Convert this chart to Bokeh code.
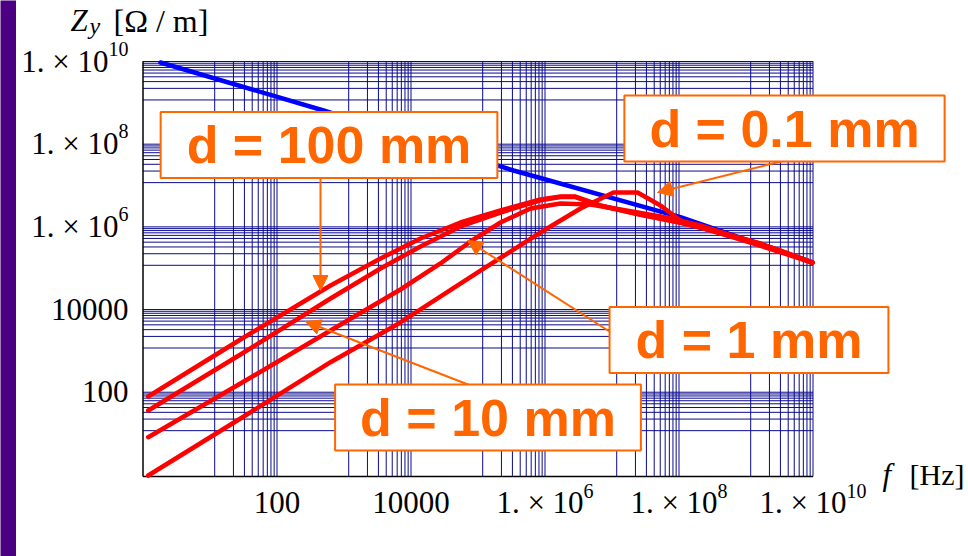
import numpy as np
from bokeh.plotting import figure
from bokeh.models import Label, Arrow, NormalHead, Range1d
from bokeh.core.properties import value
from bokeh.embed import file_html
from bokeh.resources import INLINE

# ---- data (log10 values) ----
blue_logf = [0.261, 2.694, 5.530, 8.022, 9.993]
blue_logz = [9.976, 8.815, 7.363, 6.234, 5.138]

d100_logf = [0.078, 1.455, 2.799, 3.545, 4.142, 4.739, 5.336, 5.933, 6.231, 6.455, 6.828, 7.425, 8.022, 8.619, 9.216, 9.993]
d100_logz = [1.896, 3.275, 4.582, 5.235, 5.718, 6.105, 6.396, 6.662, 6.734, 6.734, 6.517, 6.299, 6.105, 5.864, 5.598, 5.138]

d10_logf = [0.078, 1.455, 2.799, 3.545, 4.142, 4.739, 5.336, 5.933, 6.231, 6.455, 6.828, 7.425, 8.022, 8.619, 9.216, 9.993]
d10_logz = [1.558, 2.912, 4.267, 4.993, 5.525, 6.009, 6.347, 6.640, 6.720, 6.720, 6.510, 6.290, 6.100, 5.860, 5.590, 5.130]

d1_logf = [0.078, 1.455, 2.799, 3.843, 4.440, 4.888, 5.336, 5.784, 6.231, 6.679, 7.127, 7.724, 8.321, 8.918, 9.515, 9.993]
d1_logz = [0.912, 2.211, 3.493, 4.485, 5.114, 5.646, 6.105, 6.444, 6.565, 6.541, 6.420, 6.251, 6.033, 5.718, 5.428, 5.138]

d01_logf = [0.078, 1.455, 2.799, 3.843, 5.037, 5.933, 6.530, 7.022, 7.381, 7.724, 8.022, 8.321, 8.918, 9.993]
d01_logz = [-0.015, 1.364, 2.726, 3.687, 4.944, 5.864, 6.444, 6.831, 6.831, 6.517, 6.154, 5.985, 5.694, 5.138]

tick_values = [1e2, 1e4, 1e6, 1e8, 1e10]
tick_mantissa = ["100", "10000", "1. × 10", "1. × 10", "1. × 10"]
tick_exponent = ["", "", "6", "8", "10"]

callout_texts = ["d = 100 mm", "d = 0.1 mm", "d = 1 mm", "d = 10 mm"]

# ---- layout helpers (page pixel -> data) ----
W, H = 968, 556
X0, DX = 142.5, 67.0      # frame left (f = 1 Hz), px per decade
Y0, DY = 61.0, 41.34      # y of 1e10, px per decade
F_MIN, F_MAX = 1.0, 1e10
Z_MIN, Z_MAX = 10 ** -0.039, 10 ** 10.007
BASE_SHIFT = 12           # alphabetic-baseline correction (px)

def fx(px):
    return 10 ** ((px - X0) / DX)

def fy(py):
    return 10 ** (10 - (py - Y0) / DY)

CHAR_W = {".": 0.25, "×": 0.564, " ": 0.25}
def text_w(s, size):
    return sum(CHAR_W.get(c, 0.5) for c in s) * size

ORANGE = "#FF6600"
NAVY = "#0A0A8C"
SERIF = "Liberation Serif"
SANS = "Liberation Sans"
TICK_PX, EXP_PX = 31, 20

p = figure(width=W, height=H, output_backend="svg", toolbar_location=None,
           x_axis_type="log", y_axis_type="log",
           x_axis_location=None, y_axis_location=None,
           x_range=Range1d(fx(0), fx(W)), y_range=Range1d(fy(H), fy(0)),
           min_border=0)
p.outline_line_color = None
p.grid.visible = False
p.background_fill_color = "white"
p.border_fill_color = "white"

# purple slide bar on the left
p.quad(left=[fx(-5)], right=[fx(15.5)], bottom=[fy(H + 5)], top=[fy(-5)],
       fill_color="#4B0082", line_color=None)

# grid: majors every 2 decades plus lines in the decade below each
def grid_lines():
    out = []
    for e in [2, 4, 6, 8, 10]:
        for m in range(1, 10):
            out.append(10 ** (e - (1 - np.log10(m)) * 0.93))
        out.append(10.0 ** e)
    return out

gx = grid_lines()
gy = grid_lines()
p.segment(x0=gx, x1=gx, y0=[Z_MIN] * len(gx), y1=[Z_MAX] * len(gx), line_color=NAVY, line_width=1)
p.segment(x0=[F_MIN] * len(gy), x1=[F_MAX] * len(gy), y0=gy, y1=gy, line_color=NAVY, line_width=1)

# frame axes (left and bottom)
p.segment(x0=[F_MIN, F_MIN], x1=[F_MIN, F_MAX], y0=[Z_MIN, Z_MIN], y1=[Z_MAX, Z_MIN],
          line_color="black", line_width=1.5)

# tick labels: x axis (centred under ticks)
tot = [text_w(m, TICK_PX) + text_w(e, EXP_PX) for m, e in zip(tick_mantissa, tick_exponent)]
p.text(x=tick_values, y=[Z_MIN] * 5, text=tick_mantissa,
       x_offset=[-t / 2 for t in tot], y_offset=38 - BASE_SHIFT,
       text_align="left", text_baseline="alphabetic",
       text_font=value(SERIF), text_font_size=f"{TICK_PX}px", text_color="black")
p.text(x=tick_values, y=[Z_MIN] * 5, text=tick_exponent,
       x_offset=[-t / 2 + text_w(m, TICK_PX) for t, m in zip(tot, tick_mantissa)], y_offset=26 - BASE_SHIFT,
       text_align="left", text_baseline="alphabetic",
       text_font=value(SERIF), text_font_size=f"{EXP_PX}px", text_color="black")
# tick labels: y axis (right aligned)
p.text(x=[F_MIN] * 5, y=tick_values, text=tick_mantissa,
       x_offset=[-14.5 - text_w(e, EXP_PX) for e in tick_exponent], y_offset=11.5 - BASE_SHIFT,
       text_align="right", text_baseline="alphabetic",
       text_font=value(SERIF), text_font_size=f"{TICK_PX}px", text_color="black")
p.text(x=[F_MIN] * 5, y=tick_values, text=tick_exponent,
       x_offset=-14.5, y_offset=-1 - BASE_SHIFT,
       text_align="right", text_baseline="alphabetic",
       text_font=value(SERIF), text_font_size=f"{EXP_PX}px", text_color="black")

# curves
p.line([10 ** v for v in blue_logf], [10 ** v for v in blue_logz], line_color="#0000FF", line_width=4.5,
       line_join="round", line_cap="round")
for lf, lz in [(d100_logf, d100_logz), (d10_logf, d10_logz), (d1_logf, d1_logz), (d01_logf, d01_logz)]:
    p.line([10 ** v for v in lf], [10 ** v for v in lz], line_color="#FF0000", line_width=4.5,
           line_join="round", line_cap="round")

# axis titles
def title_label(px, py, text, size="31px", style="normal"):
    p.add_layout(Label(x=fx(px), y=fy(py - BASE_SHIFT), text=text, text_font=SERIF, text_font_style=style,
                       text_font_size=size, text_baseline="alphabetic", text_color="black"))

title_label(70, 32, "Z", style="italic")
title_label(89, 37, "y", size="24px", style="italic")
title_label(113, 32, "[Ω / m]", size="32px")
title_label(882, 486, "f", style="italic")
title_label(909, 486, "[Hz]", size="30px")

# callouts: arrows first, boxes on top
arrows = [((320, 178), (320, 290)), ((784, 160), (657, 192)), ((609, 331), (467, 240)), ((470, 385), (305, 321))]
for (sx, sy), (ex, ey) in arrows:
    p.add_layout(Arrow(x_start=fx(sx), y_start=fy(sy), x_end=fx(ex), y_end=fy(ey),
                       line_color=ORANGE, line_width=2,
                       end=NormalHead(size=15, fill_color=ORANGE, line_color=ORANGE)))

boxes = [(328.5, 144.5, 26), (784, 128, 25), (748.5, 339.5, 26), (487.5, 417, 25)]
for text, (cx, cy, hp) in zip(callout_texts, boxes):
    p.add_layout(Label(x=fx(cx), y=fy(cy), text=text, text_align="center", text_baseline="middle",
                       text_font=SANS, text_font_style="bold", text_font_size="52px", text_color=ORANGE,
                       background_fill_color="white", border_line_color=ORANGE, border_line_width=2,
                       padding=dict(left=hp, right=hp, top=4, bottom=4)))

open("out.html", "w").write(file_html(p, INLINE))
